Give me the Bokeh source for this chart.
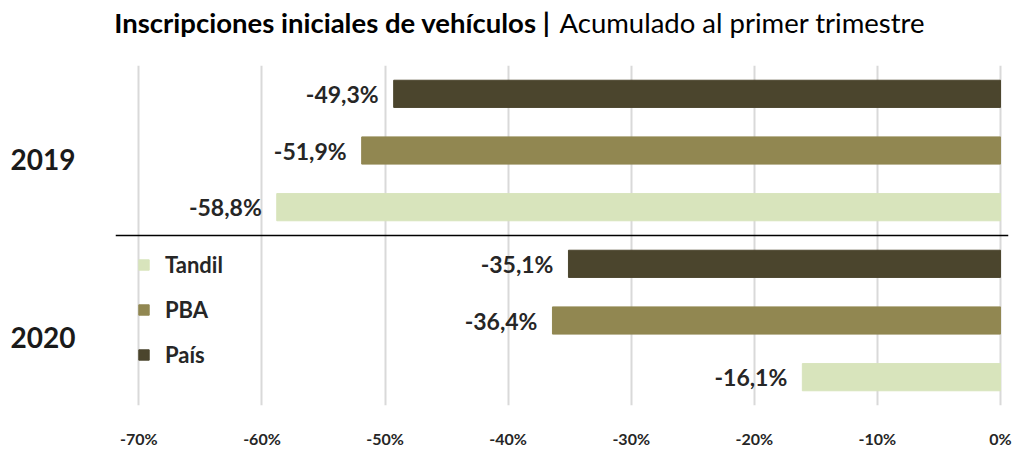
from bokeh.plotting import figure
from bokeh.layouts import column
from bokeh.models import (Range1d, FixedTicker, Span, LabelSet,
                          ColumnDataSource, Legend, LegendItem)
from bokeh.embed import file_html
from bokeh.resources import INLINE
from bokeh.core.properties import value

# ---- data ----
years = ["2019", "2020"]
series = ["País", "PBA", "Tandil"]
pais = [-49.3, -35.1]
pba = [-51.9, -36.4]
tandil = [-58.8, -16.1]
colors = ["#4b452d", "#918751", "#d8e4bc"]
x_ticks = [-70, -60, -50, -40, -30, -20, -10, 0]
x_tick_labels = ["-70%", "-60%", "-50%", "-40%", "-30%", "-20%", "-10%", "0%"]
title_bold = "Inscripciones iniciales de vehículos |"
title_normal = "Acumulado al primer trimestre"

FONT = "Lato"
TXT = "#262626"
W = 1019
TITLE_H = 50
FRAME_L, FRAME_R = 115, 1008

# ---- title strip (its frame is aligned with the chart frame by the column) ----
t = figure(width=W, height=TITLE_H, output_backend="svg", toolbar_location=None,
           x_range=Range1d(FRAME_L, FRAME_R), y_range=Range1d(0, TITLE_H),
           x_axis_type=None, y_axis_type=None,
           min_border=0, min_border_left=0, min_border_right=0,
           min_border_top=0, min_border_bottom=0, outline_line_color=None)
t.grid.visible = False
t.text(x=[550], y=[28], text=[title_bold], text_align="right", text_baseline="middle",
       text_font=value(FONT), text_font_style="bold", text_font_size="27.5px",
       text_color="black")
t.text(x=[559], y=[28], text=[title_normal], text_align="left", text_baseline="middle",
       text_font=value(FONT), text_font_style="normal", text_font_size="27.5px",
       text_color="black")

# ---- main chart ----
p = figure(width=W, height=450 - TITLE_H, output_backend="svg", toolbar_location=None,
           x_range=Range1d(-71.9, 0.65), y_range=Range1d(6.0, 0.0),
           min_border_left=FRAME_L, min_border_right=W - FRAME_R,
           min_border_top=65 - TITLE_H, min_border_bottom=45)

values = [pais, pba, tandil]
renderers = {}
for s, name in enumerate(series):
    ys = [g * 3 + s + 0.5 for g in range(len(years))]
    vals = values[s]
    lbls = [f"{v:.1f}%".replace(".", ",") for v in vals]
    src = ColumnDataSource(dict(y=ys, v=vals, lbl=lbls))
    r = p.hbar(y="y", right="v", left=0, height=0.48, fill_color=colors[s],
               line_color=colors[s], source=src)
    renderers[name] = r
    p.add_layout(LabelSet(x="v", y="y", text="lbl", x_offset=-15, source=src,
                          text_align="right", text_baseline="middle",
                          text_font=value(FONT), text_font_style="bold",
                          text_font_size="23px", text_color=TXT))

# separator between groups
p.add_layout(Span(location=3, dimension="width", line_color="black", line_width=1.5))

# legend (reverse order)
legend = Legend(items=[LegendItem(label=n, renderers=[renderers[n]]) for n in reversed(series)],
                location=(22, 37), glyph_width=13, glyph_height=13,
                label_text_font=FONT, label_text_font_style="bold",
                label_text_font_size="22px", label_text_color=TXT,
                background_fill_alpha=0, border_line_color=None,
                padding=0, margin=0, spacing=18, label_height=20, label_standoff=15)
p.add_layout(legend)

# axes
p.xaxis.ticker = FixedTicker(ticks=x_ticks)
p.xaxis.major_label_overrides = dict(zip(x_ticks, x_tick_labels))
p.xaxis.major_label_text_font = FONT
p.xaxis.major_label_text_font_style = "bold"
p.xaxis.major_label_text_font_size = "16px"
p.xaxis.major_label_text_color = TXT
p.xaxis.major_label_standoff = 23

group_ticks = [1.65, 4.8]
p.yaxis.ticker = FixedTicker(ticks=group_ticks)
p.yaxis.major_label_overrides = dict(zip(group_ticks, years))
p.yaxis.major_label_text_font = FONT
p.yaxis.major_label_text_font_style = "bold"
p.yaxis.major_label_text_font_size = "28px"
p.yaxis.major_label_text_color = "#1a1a1a"
p.yaxis.major_label_standoff = 40

for ax in (p.xaxis, p.yaxis):
    ax.axis_line_color = None
    ax.major_tick_line_color = None
    ax.minor_tick_line_color = None
    ax.major_tick_out = 0
    ax.major_tick_in = 0
    ax.minor_tick_out = 0
    ax.minor_tick_in = 0

p.xgrid.ticker = FixedTicker(ticks=x_ticks)
p.xgrid.grid_line_color = "#d9d9d9"
p.xgrid.grid_line_width = 2
p.ygrid.visible = False
p.outline_line_color = None

layout = column(t, p, spacing=0)
open("out.html", "w").write(file_html(layout, INLINE))
